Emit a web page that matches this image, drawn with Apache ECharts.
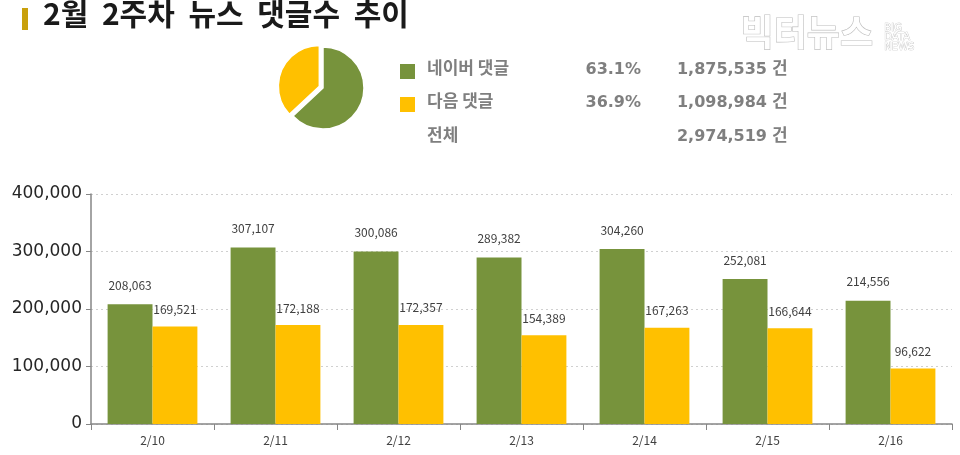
<!DOCTYPE html>
<html><head><meta charset="utf-8">
<script src="https://cdn.jsdelivr.net/npm/echarts@6/dist/echarts.min.js"></script>
<style>html,body{margin:0;padding:0;background:#fff}#c{width:960px;height:455px}</style>
</head><body><div id="c"></div>
<script>
const categories = ['2/10','2/11','2/12','2/13','2/14','2/15','2/16'];
const naver = [208063,307107,300086,289382,304260,252081,214556];
const daum = [169521,172188,172357,154389,167263,166644,96622];
const seriesNames = ['네이버 댓글','다음 댓글'];
const yTicks = [0,100000,200000,300000,400000];
const title = '2월 2주차 뉴스 댓글수 추이';

const GREEN = '#77933c', YELLOW = '#ffc000';
const FONT = '"Noto Sans CJK KR", "Noto Sans", sans-serif';
const NUMFONT = '"DejaVu Sans", "Noto Sans", sans-serif';
const fmt = v => v.toLocaleString('en-US');
const sum = a => a.reduce((s, v) => s + v, 0);
const tN = sum(naver), tD = sum(daum), tAll = tN + tD;
const pN = (tN / tAll * 100).toFixed(1) + '%';
const pD = (tD / tAll * 100).toFixed(1) + '%';

const chart = echarts.init(document.getElementById('c'));
const legText = (x, y, text) => ({
  type: 'text', left: x, top: y,
  style: { text, font: 'bold 17px ' + FONT, fill: '#7f7f7f' }
});
const legNum = (xr, y, text) => ({
  type: 'text', right: 960 - xr, top: y,
  style: { text, font: 'bold 16px ' + NUMFONT, fill: '#7f7f7f' }
});
chart.setOption({
  animation: false,
  grid: { left: 91, right: 8, top: 194, bottom: 31 },
  xAxis: {
    type: 'category', data: categories,
    axisLine: { lineStyle: { color: '#868686', width: 1.5 } },
    axisTick: { show: true, length: 6, lineStyle: { color: '#868686' } },
    axisLabel: { color: '#404040', fontSize: 12, fontFamily: FONT, margin: 10 }
  },
  yAxis: {
    type: 'value', min: yTicks[0], max: yTicks[yTicks.length - 1], interval: 100000,
    axisLine: { show: true, lineStyle: { color: '#868686', width: 1.5 } },
    axisTick: { show: true, length: 5, inside: false, lineStyle: { color: '#868686' } },
    splitLine: { lineStyle: { color: '#d0d0d0', type: [2, 3] } },
    axisLabel: { color: '#262626', fontSize: 17, fontFamily: NUMFONT, margin: 9, formatter: v => fmt(v) }
  },
  series: [
    { name: seriesNames[0], type: 'bar', data: naver, barGap: '0%', barCategoryGap: '27%',
      itemStyle: { color: GREEN },
      label: { show: true, position: 'top', distance: 13, color: '#404040', fontSize: 12, fontFamily: FONT, formatter: p => fmt(p.value) } },
    { name: seriesNames[1], type: 'bar', data: daum,
      itemStyle: { color: YELLOW },
      label: { show: true, position: 'top', distance: 11, color: '#404040', fontSize: 12, fontFamily: FONT, formatter: p => fmt(p.value) } },
    { type: 'pie', center: [323, 88], radius: 41, startAngle: 90, clockwise: true,
      label: { show: false }, labelLine: { show: false }, silent: true,
      selectedMode: 'multiple', selectedOffset: 4,
      itemStyle: { borderColor: '#fff', borderWidth: 1.5 },
      data: [
        { name: seriesNames[0], value: tN, itemStyle: { color: GREEN } },
        { name: seriesNames[1], value: tD, itemStyle: { color: YELLOW }, selected: true }
      ] }
  ],
  graphic: [
    { type: 'rect', shape: { x: 22, y: 8, width: 6, height: 22 }, style: { fill: '#c9a00c' } },
    { type: 'text', left: 43, top: -1, style: { text: title.split(' ').join('  '), font: 'bold 30px ' + FONT, fill: '#1a1a1a' } },
    { type: 'rect', shape: { x: 400, y: 64, width: 15, height: 15 }, style: { fill: GREEN } },
    { type: 'rect', shape: { x: 400, y: 97, width: 15, height: 15 }, style: { fill: YELLOW } },
    legText(427, 59, seriesNames[0]),
    legText(427, 92, seriesNames[1]),
    legText(427, 126, '전체'),
    legNum(641, 62, pN),
    legNum(641, 95, pD),
    legNum(767, 62, fmt(tN)),
    legNum(767, 95, fmt(tD)),
    legNum(767, 129, fmt(tAll)),
    legText(772, 59, '건'),
    legText(772, 92, '건'),
    legText(772, 126, '건'),
    { type: 'text', left: 740, top: 14, style: { text: '빅터뉴스', font: 'bold 36px ' + FONT, fill: '#fff', stroke: '#bdbdbd', lineWidth: 1.2 } },
    { type: 'text', left: 884, top: 23, style: { text: 'BIG\nDATA\nNEWS', font: '10px ' + NUMFONT, lineHeight: 9.5, fill: '#fff', stroke: '#bdbdbd', lineWidth: 0.7 } }
  ]
});
</script></body></html>
